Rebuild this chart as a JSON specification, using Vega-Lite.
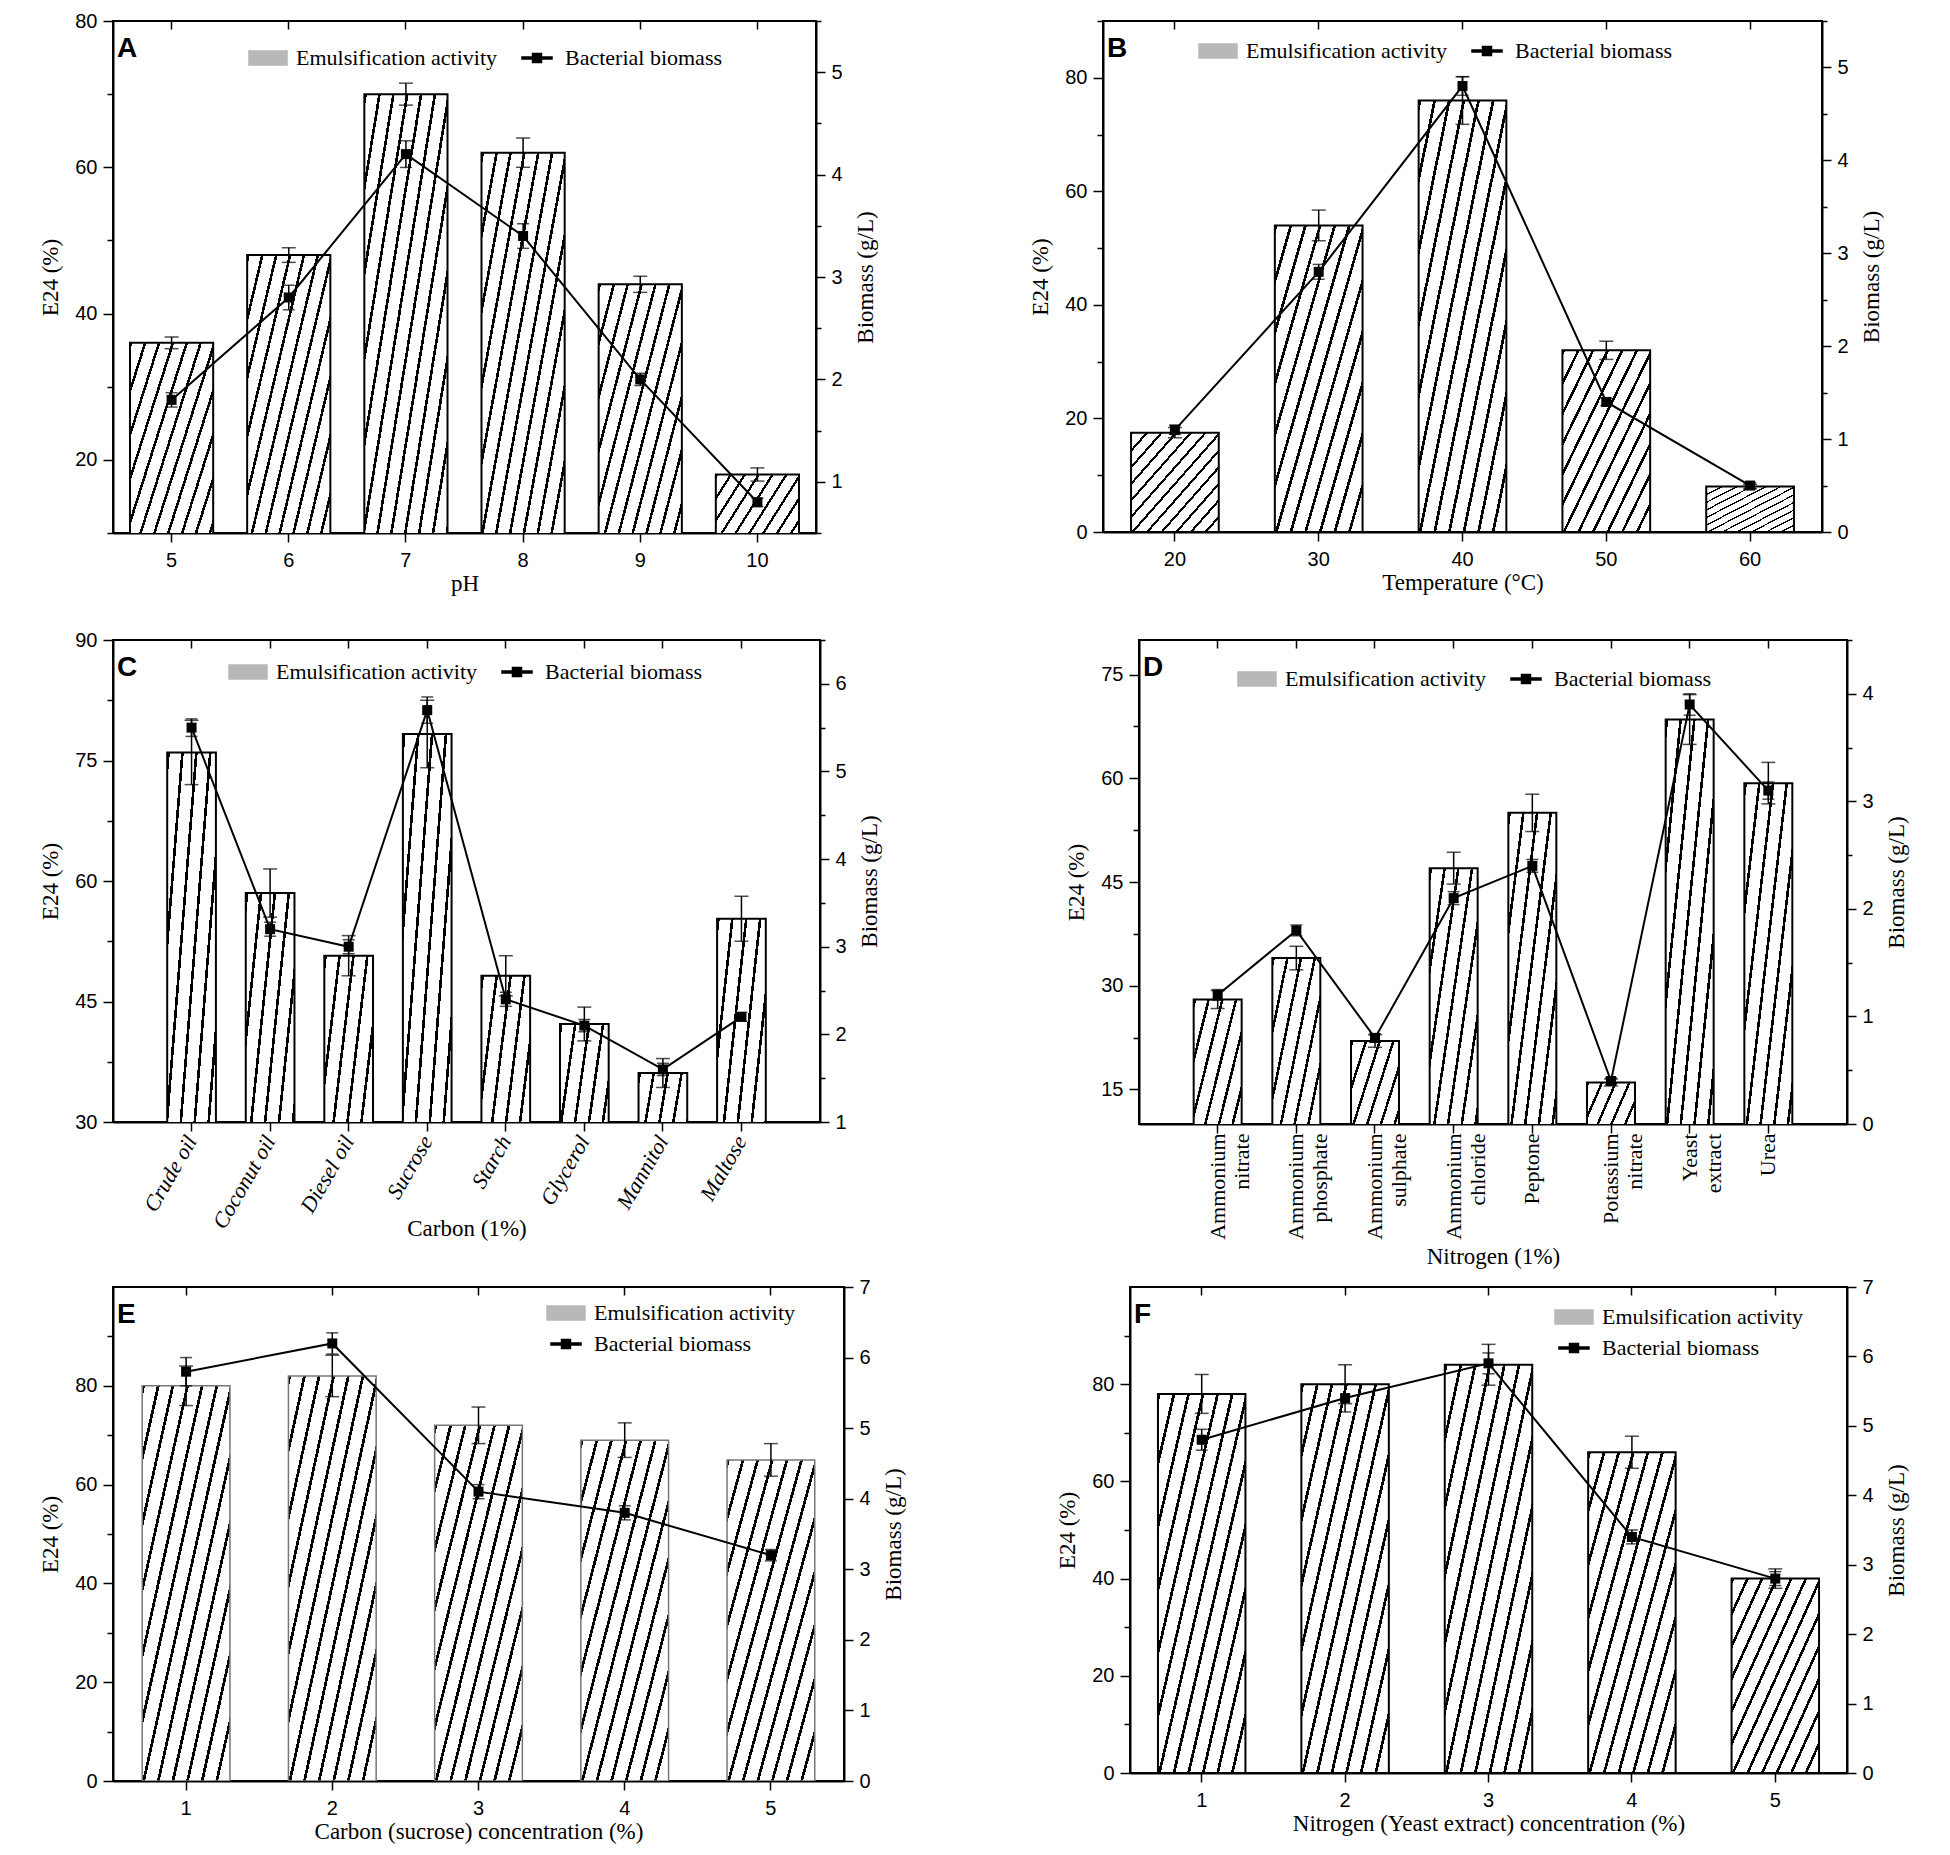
{
  "$schema": "https://vega.github.io/schema/vega-lite/v6.json",
  "background": "white",
  "padding": {"left": 38, "top": 10, "right": 5, "bottom": 5},
  "spacing": 6,
  "resolve": {"scale": {"color": "independent"}, "legend": {"color": "independent"}},
  "vconcat": [
    {
      "spacing": 33,
      "resolve": {"scale": {"color": "independent"}, "legend": {"color": "independent"}},
      "vconcat": [
        {
          "spacing": 149,
          "resolve": {"scale": {"color": "independent"}, "legend": {"color": "independent"}},
          "hconcat": [
            {
              "title": {"text": "A"},
              "width": 703,
              "height": 512,
              "data": {"values": [
                {"cat": 5, "e24": 36, "e24err": 0.8, "bio": 1.8, "bioerr": 0.07},
                {"cat": 6, "e24": 48, "e24err": 1.0, "bio": 2.8, "bioerr": 0.12},
                {"cat": 7, "e24": 70, "e24err": 1.5, "bio": 4.2, "bioerr": 0.13},
                {"cat": 8, "e24": 62, "e24err": 2.0, "bio": 3.4, "bioerr": 0.12},
                {"cat": 9, "e24": 44, "e24err": 1.1, "bio": 2.0, "bioerr": 0.06},
                {"cat": 10, "e24": 18, "e24err": 0.9, "bio": 0.8, "bioerr": 0.04}
              ]},
              "layer": [
                {"layer": [
                  {"mark": {"type": "bar", "stroke": "black", "strokeWidth": 2, "clip": true},
                   "encoding": {
                     "x": {"field": "cat", "type": "ordinal", "scale": {"paddingInner": 0.29}, "axis": {"title": "pH", "labelPadding": 8, "titlePadding": 2}},
                     "y": {"field": "e24", "type": "quantitative", "scale": {"domain": [10, 80]}, "title": "E24 (%)",
                           "axis": {"values": [10, 20, 30, 40, 50, 60, 70, 80], "labelExpr": "datum.value % 20 == 0 ? '' + datum.value : ''",
                                    "tickSize": {"condition": {"test": "datum.value % 20 == 0", "value": 10}, "value": 6}}}
                   }},
                  {"mark": {"type": "errorbar", "color": "black", "thickness": 1.5, "ticks": {"size": 14}},
                   "encoding": {
                     "x": {"field": "cat", "type": "ordinal"},
                     "y": {"field": "e24", "type": "quantitative", "title": "E24 (%)"},
                     "yError": {"field": "e24err"}
                   }}
                ]},
                {"layer": [
                  {"mark": {"type": "line", "strokeWidth": 2},
                   "encoding": {
                     "x": {"field": "cat", "type": "ordinal", "axis": {"orient": "top", "labels": false, "title": null, "domain": false, "tickSize": -8}},
                     "y": {"field": "bio", "type": "quantitative", "scale": {"domain": [0.5, 5.5]}, "title": "Biomass (g/L)",
                           "axis": {"orient": "right", "titleAngle": 270, "titleBaseline": "top", "titlePadding": 12,
                                    "values": [0.5, 1, 1.5, 2, 2.5, 3, 3.5, 4, 4.5, 5, 5.5], "labelExpr": "datum.value % 1 == 0 ? '' + datum.value : ''",
                                    "tickSize": {"condition": {"test": "datum.value % 1 == 0", "value": 9}, "value": 5}}},
                     "color": {"datum": "Bacterial biomass", "scale": {"domain": ["Emulsification activity", "Bacterial biomass"], "range": ["#b8b8b8", "black"]},
                               "legend": {"title": null, "orient": "none", "legendX": 144, "legendY": 26, "direction": "horizontal",
                                          "encode": {"symbols": {"update": {"stroke": {"value": "black"}, "strokeWidth": {"value": 1.5},
                                            "fill": [{"test": "datum.value == 'Bacterial biomass'", "value": "black"}, {"value": "#b8b8b8"}],
                                            "shape": {"signal": "datum.value == 'Bacterial biomass' ? 'M-1.5,-0.1H1.5V0.1H-1.5Z M-0.45,-0.45H0.45V0.45H-0.45Z' : 'M-1.9,-0.7H1.9V0.7H-1.9Z'"}}}}}},
                     "order": {"value": null}
                   }},
                  {"mark": {"type": "point", "shape": "square", "filled": true, "size": 100, "opacity": 1},
                   "encoding": {
                     "x": {"field": "cat", "type": "ordinal"},
                     "y": {"field": "bio", "type": "quantitative", "title": "Biomass (g/L)"},
                     "color": {"datum": "Bacterial biomass"}
                   }},
                  {"mark": {"type": "errorbar", "color": "black", "thickness": 1.5, "ticks": {"size": 12}},
                   "encoding": {
                     "x": {"field": "cat", "type": "ordinal"},
                     "y": {"field": "bio", "type": "quantitative", "title": "Biomass (g/L)"},
                     "yError": {"field": "bioerr"}
                   }}
                ]}
              ],
              "resolve": {"scale": {"y": "independent"}, "axis": {"x": "independent"}}
            },
            {
              "title": {"text": "B"},
              "width": 719,
              "height": 511,
              "data": {"values": [
                {"cat": 20, "e24": 17.5, "e24err": 0.9, "bio": 1.1, "bioerr": 0.05},
                {"cat": 30, "e24": 54, "e24err": 2.7, "bio": 2.8, "bioerr": 0.08},
                {"cat": 40, "e24": 76, "e24err": 4.2, "bio": 4.8, "bioerr": 0.1},
                {"cat": 50, "e24": 32, "e24err": 1.6, "bio": 1.4, "bioerr": 0.04},
                {"cat": 60, "e24": 8, "e24err": 0.4, "bio": 0.5, "bioerr": 0.03}
              ]},
              "layer": [
                {"layer": [
                  {"mark": {"type": "bar", "stroke": "black", "strokeWidth": 2, "clip": true},
                   "encoding": {
                     "x": {"field": "cat", "type": "ordinal", "scale": {"paddingInner": 0.39}, "axis": {"title": "Temperature (°C)", "labelPadding": 8, "titlePadding": 2}},
                     "y": {"field": "e24", "type": "quantitative", "scale": {"domain": [0, 90]}, "title": "E24 (%)",
                           "axis": {"values": [0, 10, 20, 30, 40, 50, 60, 70, 80, 90], "labelExpr": "datum.value % 20 == 0 ? '' + datum.value : ''",
                                    "tickSize": {"condition": {"test": "datum.value % 20 == 0", "value": 10}, "value": 6}}}
                   }},
                  {"mark": {"type": "errorbar", "color": "black", "thickness": 1.5, "ticks": {"size": 14}},
                   "encoding": {
                     "x": {"field": "cat", "type": "ordinal"},
                     "y": {"field": "e24", "type": "quantitative", "title": "E24 (%)"},
                     "yError": {"field": "e24err"}
                   }}
                ]},
                {"layer": [
                  {"mark": {"type": "line", "strokeWidth": 2},
                   "encoding": {
                     "x": {"field": "cat", "type": "ordinal", "axis": {"orient": "top", "labels": false, "title": null, "domain": false, "tickSize": -8}},
                     "y": {"field": "bio", "type": "quantitative", "scale": {"domain": [0, 5.5]}, "title": "Biomass (g/L)",
                           "axis": {"orient": "right", "titleAngle": 270, "titleBaseline": "top", "titlePadding": 12,
                                    "values": [0, 0.5, 1, 1.5, 2, 2.5, 3, 3.5, 4, 4.5, 5, 5.5], "labelExpr": "datum.value % 1 == 0 ? '' + datum.value : ''",
                                    "tickSize": {"condition": {"test": "datum.value % 1 == 0", "value": 9}, "value": 5}}},
                     "color": {"datum": "Bacterial biomass", "scale": {"domain": ["Emulsification activity", "Bacterial biomass"], "range": ["#b8b8b8", "black"]},
                               "legend": {"title": null, "orient": "none", "legendX": 104, "legendY": 19, "direction": "horizontal",
                                          "encode": {"symbols": {"update": {"stroke": {"value": "black"}, "strokeWidth": {"value": 1.5},
                                            "fill": [{"test": "datum.value == 'Bacterial biomass'", "value": "black"}, {"value": "#b8b8b8"}],
                                            "shape": {"signal": "datum.value == 'Bacterial biomass' ? 'M-1.5,-0.1H1.5V0.1H-1.5Z M-0.45,-0.45H0.45V0.45H-0.45Z' : 'M-1.9,-0.7H1.9V0.7H-1.9Z'"}}}}}},
                     "order": {"value": null}
                   }},
                  {"mark": {"type": "point", "shape": "square", "filled": true, "size": 100, "opacity": 1},
                   "encoding": {
                     "x": {"field": "cat", "type": "ordinal"},
                     "y": {"field": "bio", "type": "quantitative", "title": "Biomass (g/L)"},
                     "color": {"datum": "Bacterial biomass"}
                   }},
                  {"mark": {"type": "errorbar", "color": "black", "thickness": 1.5, "ticks": {"size": 12}},
                   "encoding": {
                     "x": {"field": "cat", "type": "ordinal"},
                     "y": {"field": "bio", "type": "quantitative", "title": "Biomass (g/L)"},
                     "yError": {"field": "bioerr"}
                   }}
                ]}
              ],
              "resolve": {"scale": {"y": "independent"}, "axis": {"x": "independent"}}
            }
          ]
        },
        {
          "spacing": 181,
          "resolve": {"scale": {"color": "independent"}, "legend": {"color": "independent"}},
          "hconcat": [
            {
              "title": {"text": "C"},
              "width": 707,
              "height": 482,
              "data": {"values": [
                {"cat": "Crude oil", "e24": 76, "e24err": 4, "bio": 5.5, "bioerr": 0.1},
                {"cat": "Coconut oil", "e24": 58.5, "e24err": 3, "bio": 3.2, "bioerr": 0.08},
                {"cat": "Diesel oil", "e24": 50.7, "e24err": 2.5, "bio": 3.0, "bioerr": 0.08},
                {"cat": "Sucrose", "e24": 78.3, "e24err": 4.2, "bio": 5.7, "bioerr": 0.15},
                {"cat": "Starch", "e24": 48.2, "e24err": 2.5, "bio": 2.4, "bioerr": 0.08},
                {"cat": "Glycerol", "e24": 42.2, "e24err": 2.1, "bio": 2.1, "bioerr": 0.07},
                {"cat": "Mannitol", "e24": 36.1, "e24err": 1.8, "bio": 1.6, "bioerr": 0.07},
                {"cat": "Maltose", "e24": 55.3, "e24err": 2.8, "bio": 2.2, "bioerr": 0.05}
              ]},
              "layer": [
                {"layer": [
                  {"mark": {"type": "bar", "stroke": "black", "strokeWidth": 2, "clip": true,
                            "fill": {"gradient": "linear", "x1": 0, "y1": 0, "x2": 1, "y2": 1, "stops": [{"offset": 0, "color": "black"}, {"offset": 0.027, "color": "black"}, {"offset": 0.027, "color": "white"}, {"offset": 0.1429, "color": "white"}, {"offset": 0.1429, "color": "black"}, {"offset": 0.1699, "color": "black"}, {"offset": 0.1699, "color": "white"}, {"offset": 0.2857, "color": "white"}, {"offset": 0.2857, "color": "black"}, {"offset": 0.3127, "color": "black"}, {"offset": 0.3127, "color": "white"}, {"offset": 0.4286, "color": "white"}, {"offset": 0.4286, "color": "black"}, {"offset": 0.4556, "color": "black"}, {"offset": 0.4556, "color": "white"}, {"offset": 0.5714, "color": "white"}, {"offset": 0.5714, "color": "black"}, {"offset": 0.5984, "color": "black"}, {"offset": 0.5984, "color": "white"}, {"offset": 0.7143, "color": "white"}, {"offset": 0.7143, "color": "black"}, {"offset": 0.7413, "color": "black"}, {"offset": 0.7413, "color": "white"}, {"offset": 0.8571, "color": "white"}, {"offset": 0.8571, "color": "black"}, {"offset": 0.8841, "color": "black"}, {"offset": 0.8841, "color": "white"}, {"offset": 1, "color": "white"}]}},
                   "encoding": {
                     "x": {"field": "cat", "type": "nominal", "sort": null, "scale": {"paddingInner": 0.38, "paddingOuter": 0.69},
                           "axis": {"title": "Carbon (1%)", "labelAngle": 300, "labelAlign": "right", "labelBaseline": "middle", "labelFont": "Liberation Serif", "labelFontStyle": "italic", "labelFontSize": 22, "labelPadding": 6, "titlePadding": -14}},
                     "y": {"field": "e24", "type": "quantitative", "scale": {"domain": [30, 90]}, "title": "E24 (%)",
                           "axis": {"values": [30, 37.5, 45, 52.5, 60, 67.5, 75, 82.5, 90], "labelExpr": "datum.value % 15 == 0 ? '' + datum.value : ''",
                                    "tickSize": {"condition": {"test": "datum.value % 15 == 0", "value": 10}, "value": 6}}}
                   }},
                  {"mark": {"type": "errorbar", "color": "black", "thickness": 1.5, "ticks": {"size": 14}},
                   "encoding": {
                     "x": {"field": "cat", "type": "nominal", "sort": null},
                     "y": {"field": "e24", "type": "quantitative", "title": "E24 (%)"},
                     "yError": {"field": "e24err"}
                   }}
                ]},
                {"layer": [
                  {"mark": {"type": "line", "strokeWidth": 2},
                   "encoding": {
                     "x": {"field": "cat", "type": "nominal", "sort": null, "axis": {"orient": "top", "labels": false, "title": null, "domain": false, "tickSize": -8}},
                     "y": {"field": "bio", "type": "quantitative", "scale": {"domain": [1, 6.5]}, "title": "Biomass (g/L)",
                           "axis": {"orient": "right", "titleAngle": 270, "titleBaseline": "top", "titlePadding": 12,
                                    "values": [1, 1.5, 2, 2.5, 3, 3.5, 4, 4.5, 5, 5.5, 6, 6.5], "labelExpr": "datum.value % 1 == 0 ? '' + datum.value : ''",
                                    "tickSize": {"condition": {"test": "datum.value % 1 == 0", "value": 9}, "value": 5}}},
                     "color": {"datum": "Bacterial biomass", "scale": {"domain": ["Emulsification activity", "Bacterial biomass"], "range": ["#b8b8b8", "black"]},
                               "legend": {"title": null, "orient": "none", "legendX": 124, "legendY": 21, "direction": "horizontal",
                                          "encode": {"symbols": {"update": {"stroke": {"value": "black"}, "strokeWidth": {"value": 1.5},
                                            "fill": [{"test": "datum.value == 'Bacterial biomass'", "value": "black"}, {"value": "#b8b8b8"}],
                                            "shape": {"signal": "datum.value == 'Bacterial biomass' ? 'M-1.5,-0.1H1.5V0.1H-1.5Z M-0.45,-0.45H0.45V0.45H-0.45Z' : 'M-1.9,-0.7H1.9V0.7H-1.9Z'"}}}}}},
                     "order": {"value": null}
                   }},
                  {"mark": {"type": "point", "shape": "square", "filled": true, "size": 100, "opacity": 1},
                   "encoding": {
                     "x": {"field": "cat", "type": "nominal", "sort": null},
                     "y": {"field": "bio", "type": "quantitative", "title": "Biomass (g/L)"},
                     "color": {"datum": "Bacterial biomass"}
                   }},
                  {"mark": {"type": "errorbar", "color": "black", "thickness": 1.5, "ticks": {"size": 12}},
                   "encoding": {
                     "x": {"field": "cat", "type": "nominal", "sort": null},
                     "y": {"field": "bio", "type": "quantitative", "title": "Biomass (g/L)"},
                     "yError": {"field": "bioerr"}
                   }}
                ]}
              ],
              "resolve": {"scale": {"y": "independent"}, "axis": {"x": "independent"}}
            },
            {
              "title": {"text": "D"},
              "width": 708,
              "height": 484,
              "data": {"values": [
                {"cat": "Ammonium nitrate", "e24": 28, "e24err": 1.3, "bio": 1.2, "bioerr": 0.05},
                {"cat": "Ammonium phosphate", "e24": 34, "e24err": 1.7, "bio": 1.8, "bioerr": 0.05},
                {"cat": "Ammonium sulphate", "e24": 22, "e24err": 0.9, "bio": 0.8, "bioerr": 0.04},
                {"cat": "Ammonium chloride", "e24": 47, "e24err": 2.3, "bio": 2.1, "bioerr": 0.06},
                {"cat": "Peptone", "e24": 55, "e24err": 2.7, "bio": 2.4, "bioerr": 0.06},
                {"cat": "Potassium nitrate", "e24": 16, "e24err": 0.5, "bio": 0.4, "bioerr": 0.03},
                {"cat": "Yeast extract", "e24": 68.5, "e24err": 3.6, "bio": 3.9, "bioerr": 0.1},
                {"cat": "Urea", "e24": 59.3, "e24err": 3, "bio": 3.1, "bioerr": 0.08}
              ]},
              "layer": [
                {"layer": [
                  {"mark": {"type": "bar", "stroke": "black", "strokeWidth": 2, "clip": true,
                            "fill": {"gradient": "linear", "x1": 0, "y1": 0, "x2": 1, "y2": 1, "stops": [{"offset": 0, "color": "black"}, {"offset": 0.027, "color": "black"}, {"offset": 0.027, "color": "white"}, {"offset": 0.1429, "color": "white"}, {"offset": 0.1429, "color": "black"}, {"offset": 0.1699, "color": "black"}, {"offset": 0.1699, "color": "white"}, {"offset": 0.2857, "color": "white"}, {"offset": 0.2857, "color": "black"}, {"offset": 0.3127, "color": "black"}, {"offset": 0.3127, "color": "white"}, {"offset": 0.4286, "color": "white"}, {"offset": 0.4286, "color": "black"}, {"offset": 0.4556, "color": "black"}, {"offset": 0.4556, "color": "white"}, {"offset": 0.5714, "color": "white"}, {"offset": 0.5714, "color": "black"}, {"offset": 0.5984, "color": "black"}, {"offset": 0.5984, "color": "white"}, {"offset": 0.7143, "color": "white"}, {"offset": 0.7143, "color": "black"}, {"offset": 0.7413, "color": "black"}, {"offset": 0.7413, "color": "white"}, {"offset": 0.8571, "color": "white"}, {"offset": 0.8571, "color": "black"}, {"offset": 0.8841, "color": "black"}, {"offset": 0.8841, "color": "white"}, {"offset": 1, "color": "white"}]}},
                   "encoding": {
                     "x": {"field": "cat", "type": "nominal", "sort": null, "scale": {"paddingInner": 0.39, "paddingOuter": 0.695},
                           "axis": {"title": "Nitrogen (1%)", "labelAngle": 270, "labelAlign": "right", "labelBaseline": "middle", "labelFont": "Liberation Serif", "labelFontSize": 22, "labelPadding": 0, "titlePadding": 6,
                                    "labelExpr": "split(datum.label, ' ')", "labelLineHeight": 24}},
                     "y": {"field": "e24", "type": "quantitative", "scale": {"domain": [10, 80]}, "title": "E24 (%)",
                           "axis": {"values": [15, 22.5, 30, 37.5, 45, 52.5, 60, 67.5, 75], "labelExpr": "datum.value % 15 == 0 ? '' + datum.value : ''",
                                    "tickSize": {"condition": {"test": "datum.value % 15 == 0", "value": 10}, "value": 6}}}
                   }},
                  {"mark": {"type": "errorbar", "color": "black", "thickness": 1.5, "ticks": {"size": 14}},
                   "encoding": {
                     "x": {"field": "cat", "type": "nominal", "sort": null},
                     "y": {"field": "e24", "type": "quantitative", "title": "E24 (%)"},
                     "yError": {"field": "e24err"}
                   }}
                ]},
                {"layer": [
                  {"mark": {"type": "line", "strokeWidth": 2},
                   "encoding": {
                     "x": {"field": "cat", "type": "nominal", "sort": null, "axis": {"orient": "top", "labels": false, "title": null, "domain": false, "tickSize": -8}},
                     "y": {"field": "bio", "type": "quantitative", "scale": {"domain": [0, 4.5]}, "title": "Biomass (g/L)",
                           "axis": {"orient": "right", "titleAngle": 270, "titleBaseline": "top", "titlePadding": 12,
                                    "values": [0, 0.5, 1, 1.5, 2, 2.5, 3, 3.5, 4, 4.5], "labelExpr": "datum.value % 1 == 0 ? '' + datum.value : ''",
                                    "tickSize": {"condition": {"test": "datum.value % 1 == 0", "value": 9}, "value": 5}}},
                     "color": {"datum": "Bacterial biomass", "scale": {"domain": ["Emulsification activity", "Bacterial biomass"], "range": ["#b8b8b8", "black"]},
                               "legend": {"title": null, "orient": "none", "legendX": 107, "legendY": 28, "direction": "horizontal",
                                          "encode": {"symbols": {"update": {"stroke": {"value": "black"}, "strokeWidth": {"value": 1.5},
                                            "fill": [{"test": "datum.value == 'Bacterial biomass'", "value": "black"}, {"value": "#b8b8b8"}],
                                            "shape": {"signal": "datum.value == 'Bacterial biomass' ? 'M-1.5,-0.1H1.5V0.1H-1.5Z M-0.45,-0.45H0.45V0.45H-0.45Z' : 'M-1.9,-0.7H1.9V0.7H-1.9Z'"}}}}}},
                     "order": {"value": null}
                   }},
                  {"mark": {"type": "point", "shape": "square", "filled": true, "size": 100, "opacity": 1},
                   "encoding": {
                     "x": {"field": "cat", "type": "nominal", "sort": null},
                     "y": {"field": "bio", "type": "quantitative", "title": "Biomass (g/L)"},
                     "color": {"datum": "Bacterial biomass"}
                   }},
                  {"mark": {"type": "errorbar", "color": "black", "thickness": 1.5, "ticks": {"size": 12}},
                   "encoding": {
                     "x": {"field": "cat", "type": "nominal", "sort": null},
                     "y": {"field": "bio", "type": "quantitative", "title": "Biomass (g/L)"},
                     "yError": {"field": "bioerr"}
                   }}
                ]}
              ],
              "resolve": {"scale": {"y": "independent"}, "axis": {"x": "independent"}}
            }
          ]
        }
      ]
    },
    {
      "spacing": 148,
      "resolve": {"scale": {"color": "independent"}, "legend": {"color": "independent"}},
      "hconcat": [
        {
          "title": {"text": "E"},
          "width": 731,
          "height": 494,
          "data": {"values": [
            {"cat": 1, "e24": 80, "e24err": 4, "bio": 5.8, "bioerr": 0.2},
            {"cat": 2, "e24": 82, "e24err": 4.2, "bio": 6.2, "bioerr": 0.15},
            {"cat": 3, "e24": 72, "e24err": 3.7, "bio": 4.1, "bioerr": 0.1},
            {"cat": 4, "e24": 69, "e24err": 3.5, "bio": 3.8, "bioerr": 0.1},
            {"cat": 5, "e24": 65, "e24err": 3.3, "bio": 3.2, "bioerr": 0.08}
          ]},
          "layer": [
            {"layer": [
              {"mark": {"type": "bar", "stroke": "#777777", "strokeWidth": 1.5, "clip": true},
               "encoding": {
                 "x": {"field": "cat", "type": "ordinal", "scale": {"paddingInner": 0.4}, "axis": {"title": "Carbon (sucrose) concentration (%)", "labelPadding": 8, "titlePadding": 2}},
                 "y": {"field": "e24", "type": "quantitative", "scale": {"domain": [0, 95]}, "title": "E24 (%)",
                       "axis": {"values": [0, 10, 20, 30, 40, 50, 60, 70, 80, 90], "labelExpr": "datum.value % 20 == 0 ? '' + datum.value : ''",
                                "tickSize": {"condition": {"test": "datum.value % 20 == 0", "value": 10}, "value": 6}}}
               }},
              {"mark": {"type": "errorbar", "color": "black", "thickness": 1.5, "ticks": {"size": 14}},
               "encoding": {
                 "x": {"field": "cat", "type": "ordinal"},
                 "y": {"field": "e24", "type": "quantitative", "title": "E24 (%)"},
                 "yError": {"field": "e24err"}
               }}
            ]},
            {"layer": [
              {"mark": {"type": "line", "strokeWidth": 2},
               "encoding": {
                 "x": {"field": "cat", "type": "ordinal", "axis": {"orient": "top", "labels": false, "title": null, "domain": false, "tickSize": -8}},
                 "y": {"field": "bio", "type": "quantitative", "scale": {"domain": [0, 7]}, "title": "Biomass (g/L)",
                       "axis": {"orient": "right", "titleAngle": 270, "titleBaseline": "top", "titlePadding": 12,
                                "values": [0, 0.5, 1, 1.5, 2, 2.5, 3, 3.5, 4, 4.5, 5, 5.5, 6, 6.5, 7], "labelExpr": "datum.value % 1 == 0 ? '' + datum.value : ''",
                                "tickSize": {"condition": {"test": "datum.value % 1 == 0", "value": 9}, "value": 5}}},
                 "color": {"datum": "Bacterial biomass", "scale": {"domain": ["Emulsification activity", "Bacterial biomass"], "range": ["#b8b8b8", "black"]},
                           "legend": {"title": null, "orient": "none", "legendX": 442, "legendY": 15, "direction": "vertical",
                                      "encode": {"symbols": {"update": {"stroke": {"value": "black"}, "strokeWidth": {"value": 1.5},
                                        "fill": [{"test": "datum.value == 'Bacterial biomass'", "value": "black"}, {"value": "#b8b8b8"}],
                                        "shape": {"signal": "datum.value == 'Bacterial biomass' ? 'M-1.5,-0.1H1.5V0.1H-1.5Z M-0.45,-0.45H0.45V0.45H-0.45Z' : 'M-1.9,-0.7H1.9V0.7H-1.9Z'"}}}}}},
                 "order": {"value": null}
               }},
              {"mark": {"type": "point", "shape": "square", "filled": true, "size": 100, "opacity": 1},
               "encoding": {
                 "x": {"field": "cat", "type": "ordinal"},
                 "y": {"field": "bio", "type": "quantitative", "title": "Biomass (g/L)"},
                 "color": {"datum": "Bacterial biomass"}
               }},
              {"mark": {"type": "errorbar", "color": "black", "thickness": 1.5, "ticks": {"size": 12}},
               "encoding": {
                 "x": {"field": "cat", "type": "ordinal"},
                 "y": {"field": "bio", "type": "quantitative", "title": "Biomass (g/L)"},
                 "yError": {"field": "bioerr"}
               }}
            ]}
          ],
          "resolve": {"scale": {"y": "independent"}, "axis": {"x": "independent"}}
        },
        {
          "title": {"text": "F"},
          "width": 717,
          "height": 486,
          "data": {"values": [
            {"cat": 1, "e24": 78, "e24err": 4, "bio": 4.8, "bioerr": 0.15},
            {"cat": 2, "e24": 80, "e24err": 4, "bio": 5.4, "bioerr": 0.2},
            {"cat": 3, "e24": 84, "e24err": 4.2, "bio": 5.9, "bioerr": 0.15},
            {"cat": 4, "e24": 66, "e24err": 3.3, "bio": 3.4, "bioerr": 0.1},
            {"cat": 5, "e24": 40, "e24err": 2, "bio": 2.8, "bioerr": 0.1}
          ]},
          "layer": [
            {"layer": [
              {"mark": {"type": "bar", "stroke": "black", "strokeWidth": 2, "clip": true},
               "encoding": {
                 "x": {"field": "cat", "type": "ordinal", "scale": {"paddingInner": 0.39}, "axis": {"title": "Nitrogen (Yeast extract) concentration (%)", "labelPadding": 8, "titlePadding": 2}},
                 "y": {"field": "e24", "type": "quantitative", "scale": {"domain": [0, 95]}, "title": "E24 (%)",
                       "axis": {"values": [0, 10, 20, 30, 40, 50, 60, 70, 80, 90], "labelExpr": "datum.value % 20 == 0 ? '' + datum.value : ''",
                                "tickSize": {"condition": {"test": "datum.value % 20 == 0", "value": 10}, "value": 6}}}
               }},
              {"mark": {"type": "errorbar", "color": "black", "thickness": 1.5, "ticks": {"size": 14}},
               "encoding": {
                 "x": {"field": "cat", "type": "ordinal"},
                 "y": {"field": "e24", "type": "quantitative", "title": "E24 (%)"},
                 "yError": {"field": "e24err"}
               }}
            ]},
            {"layer": [
              {"mark": {"type": "line", "strokeWidth": 2},
               "encoding": {
                 "x": {"field": "cat", "type": "ordinal", "axis": {"orient": "top", "labels": false, "title": null, "domain": false, "tickSize": -8}},
                 "y": {"field": "bio", "type": "quantitative", "scale": {"domain": [0, 7]}, "title": "Biomass (g/L)",
                       "axis": {"orient": "right", "titleAngle": 270, "titleBaseline": "top", "titlePadding": 12,
                                "values": [0, 0.5, 1, 1.5, 2, 2.5, 3, 3.5, 4, 4.5, 5, 5.5, 6, 6.5, 7], "labelExpr": "datum.value % 1 == 0 ? '' + datum.value : ''",
                                "tickSize": {"condition": {"test": "datum.value % 1 == 0", "value": 9}, "value": 5}}},
                 "color": {"datum": "Bacterial biomass", "scale": {"domain": ["Emulsification activity", "Bacterial biomass"], "range": ["#b8b8b8", "black"]},
                           "legend": {"title": null, "orient": "none", "legendX": 433, "legendY": 19, "direction": "vertical",
                                      "encode": {"symbols": {"update": {"stroke": {"value": "black"}, "strokeWidth": {"value": 1.5},
                                        "fill": [{"test": "datum.value == 'Bacterial biomass'", "value": "black"}, {"value": "#b8b8b8"}],
                                        "shape": {"signal": "datum.value == 'Bacterial biomass' ? 'M-1.5,-0.1H1.5V0.1H-1.5Z M-0.45,-0.45H0.45V0.45H-0.45Z' : 'M-1.9,-0.7H1.9V0.7H-1.9Z'"}}}}}},
                 "order": {"value": null}
               }},
              {"mark": {"type": "point", "shape": "square", "filled": true, "size": 100, "opacity": 1},
               "encoding": {
                 "x": {"field": "cat", "type": "ordinal"},
                 "y": {"field": "bio", "type": "quantitative", "title": "Biomass (g/L)"},
                 "color": {"datum": "Bacterial biomass"}
               }},
              {"mark": {"type": "errorbar", "color": "black", "thickness": 1.5, "ticks": {"size": 12}},
               "encoding": {
                 "x": {"field": "cat", "type": "ordinal"},
                 "y": {"field": "bio", "type": "quantitative", "title": "Biomass (g/L)"},
                 "yError": {"field": "bioerr"}
               }}
            ]}
          ],
          "resolve": {"scale": {"y": "independent"}, "axis": {"x": "independent"}}
        }
      ]
    }
  ],
  "config": {
    "view": {"stroke": "black", "strokeWidth": 2},
    "bar": {
      "fill": {"gradient": "linear", "x1": 0, "y1": 0, "x2": 1, "y2": 1, "stops": [{"offset": 0, "color": "black"}, {"offset": 0.016, "color": "black"}, {"offset": 0.016, "color": "white"}, {"offset": 0.0833, "color": "white"}, {"offset": 0.0833, "color": "black"}, {"offset": 0.0993, "color": "black"}, {"offset": 0.0993, "color": "white"}, {"offset": 0.1667, "color": "white"}, {"offset": 0.1667, "color": "black"}, {"offset": 0.1827, "color": "black"}, {"offset": 0.1827, "color": "white"}, {"offset": 0.25, "color": "white"}, {"offset": 0.25, "color": "black"}, {"offset": 0.266, "color": "black"}, {"offset": 0.266, "color": "white"}, {"offset": 0.3333, "color": "white"}, {"offset": 0.3333, "color": "black"}, {"offset": 0.3493, "color": "black"}, {"offset": 0.3493, "color": "white"}, {"offset": 0.4167, "color": "white"}, {"offset": 0.4167, "color": "black"}, {"offset": 0.4327, "color": "black"}, {"offset": 0.4327, "color": "white"}, {"offset": 0.5, "color": "white"}, {"offset": 0.5, "color": "black"}, {"offset": 0.516, "color": "black"}, {"offset": 0.516, "color": "white"}, {"offset": 0.5833, "color": "white"}, {"offset": 0.5833, "color": "black"}, {"offset": 0.5993, "color": "black"}, {"offset": 0.5993, "color": "white"}, {"offset": 0.6667, "color": "white"}, {"offset": 0.6667, "color": "black"}, {"offset": 0.6827, "color": "black"}, {"offset": 0.6827, "color": "white"}, {"offset": 0.75, "color": "white"}, {"offset": 0.75, "color": "black"}, {"offset": 0.766, "color": "black"}, {"offset": 0.766, "color": "white"}, {"offset": 0.8333, "color": "white"}, {"offset": 0.8333, "color": "black"}, {"offset": 0.8493, "color": "black"}, {"offset": 0.8493, "color": "white"}, {"offset": 0.9167, "color": "white"}, {"offset": 0.9167, "color": "black"}, {"offset": 0.9327, "color": "black"}, {"offset": 0.9327, "color": "white"}, {"offset": 1, "color": "white"}]}
    },
    "axis": {
      "domainColor": "black", "domainWidth": 2, "tickColor": "black", "tickWidth": 1.5, "tickSize": 9,
      "labelColor": "black", "labelFont": "Liberation Sans", "labelFontSize": 20, "labelPadding": 6,
      "titleFont": "Liberation Serif", "titleFontSize": 23, "titleFontWeight": "normal", "titleColor": "black",
      "grid": false, "labelOverlap": false, "labelFlush": false
    },
    "axisX": {"labelAngle": 0},
    "axisY": {"titlePadding": 12},
    "legend": {
      "symbolType": "square", "symbolSize": 400, "symbolStrokeColor": "black", "symbolStrokeWidth": 1.5,
      "labelFont": "Liberation Serif", "labelFontSize": 22, "labelColor": "black", "labelLimit": 400,
      "columnPadding": 21, "labelOffset": 17, "rowPadding": 9
    },
    "title": {
      "anchor": "start", "frame": "group", "font": "Liberation Sans", "fontSize": 28, "fontWeight": "bold",
      "color": "black", "baseline": "top", "offset": -52, "dx": 4
    }
  }
}
